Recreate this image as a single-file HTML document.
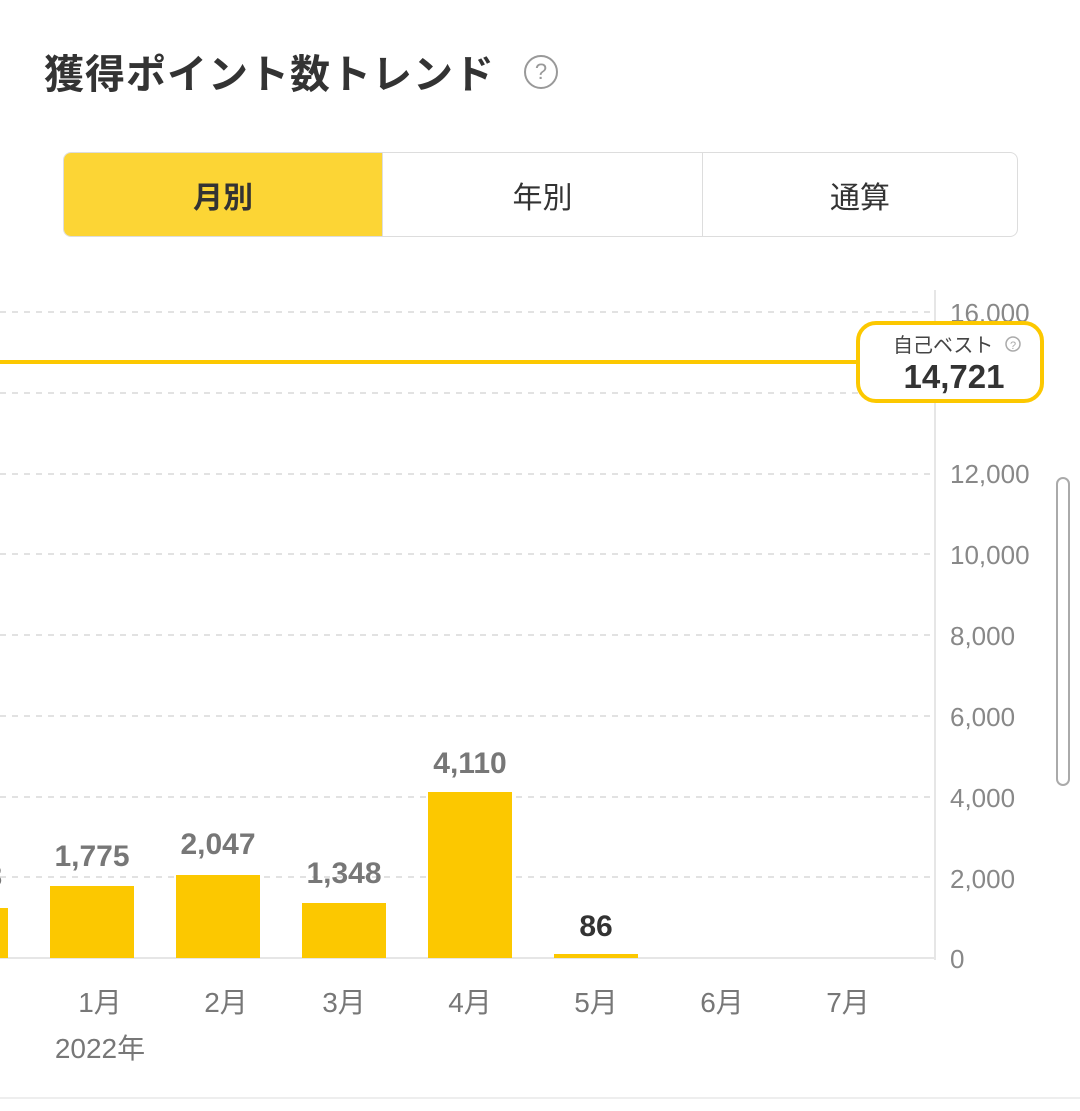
<!DOCTYPE html>
<html><head><meta charset="utf-8"><style>
body{margin:0;width:1080px;height:1111px;background:#fff;overflow:hidden;position:relative;font-family:"Liberation Sans","Noto Sans CJK JP",sans-serif}
.a{position:absolute}
</style></head><body>
<div class="a" style="left:44px;top:42px;font-size:40px;font-weight:bold;color:#333;letter-spacing:1px">獲得ポイント数トレンド</div>
<div class="a" style="left:524px;top:55px;width:30px;height:30px;border:2.5px solid #999;border-radius:50%;color:#999;font-size:22px;text-align:center;line-height:30px;box-sizing:content-box">?</div>
<div class="a" style="left:63px;top:152px;width:955px;height:85px;border:1.5px solid #ddd;border-radius:8px;box-sizing:border-box;overflow:hidden;display:flex;font-size:30px;color:#333">
<div style="width:318px;background:#fcd535;font-weight:bold;display:flex;align-items:center;justify-content:center">月別</div>
<div style="width:319px;border-left:1.5px solid #ddd;border-right:1.5px solid #ddd;display:flex;align-items:center;justify-content:center">年別</div>
<div style="flex:1;display:flex;align-items:center;justify-content:center">通算</div>
</div>
<svg class="a" style="left:0;top:0" width="1080" height="1111">
<g stroke="#e2e2e2" stroke-width="2" stroke-dasharray="6,6">
<line x1="0" x2="935" y1="312" y2="312"/><line x1="0" x2="935" y1="393" y2="393"/><line x1="0" x2="935" y1="474" y2="474"/><line x1="0" x2="935" y1="554" y2="554"/><line x1="0" x2="935" y1="635" y2="635"/><line x1="0" x2="935" y1="716" y2="716"/><line x1="0" x2="935" y1="797" y2="797"/><line x1="0" x2="935" y1="877" y2="877"/>
</g>
<line x1="935" x2="935" y1="290" y2="960" stroke="#e6e6e6" stroke-width="2"/>
<line x1="0" x2="935" y1="958" y2="958" stroke="#e6e6e6" stroke-width="2"/>
<g fill="#fcc800">
<rect x="0" y="908" width="8" height="50"/>
<rect x="50" y="886" width="84" height="72"/>
<rect x="176" y="875" width="84" height="83"/>
<rect x="302" y="903" width="84" height="55"/>
<rect x="428" y="792" width="84" height="166"/>
<rect x="554" y="954" width="84" height="4"/>
</g>
<line x1="0" x2="860" y1="362" y2="362" stroke="#fcc800" stroke-width="4"/>
<g font-family="Liberation Sans Narrow, Liberation Sans, sans-serif" font-size="26" fill="#888">
<text x="950" y="322">16,000</text><text x="950" y="483">12,000</text><text x="950" y="564">10,000</text><text x="950" y="645">8,000</text><text x="950" y="726">6,000</text><text x="950" y="807">4,000</text><text x="950" y="888">2,000</text><text x="950" y="968">0</text>
</g>
<g font-size="30" font-weight="bold" fill="#777" text-anchor="middle">
<text x="92" y="866">1,775</text><text x="218" y="854">2,047</text><text x="344" y="883">1,348</text><text x="470" y="773">4,110</text><text x="596" y="936" fill="#333">86</text><text x="-6" y="886">3</text>
</g>
<g font-family="Liberation Sans Narrow, Liberation Sans, Noto Sans CJK JP, sans-serif" font-size="28" fill="#777" text-anchor="middle">
<text x="100" y="1012">1月</text><text x="226" y="1012">2月</text><text x="344" y="1012">3月</text><text x="470" y="1012">4月</text><text x="596" y="1012">5月</text><text x="722" y="1012">6月</text><text x="848" y="1012">7月</text><text x="100" y="1058">2022年</text>
</g>
<rect x="858" y="323" width="184" height="78" rx="18" fill="#fff" stroke="#fcc800" stroke-width="4"/>
<text x="893" y="352" font-size="20" fill="#444">自己ベスト</text>
<circle cx="1013" cy="344" r="7" fill="none" stroke="#aaa" stroke-width="1.5"/><text x="1013" y="349" font-size="11" fill="#aaa" text-anchor="middle">?</text>
<text x="954" y="388" font-size="33" font-weight="bold" fill="#333" text-anchor="middle">14,721</text>
<rect x="1057" y="478" width="12" height="307" rx="6" fill="none" stroke="#aaa" stroke-width="2"/>
<line x1="0" x2="1080" y1="1098" y2="1098" stroke="#eee" stroke-width="2"/>
</svg>
</body></html>
